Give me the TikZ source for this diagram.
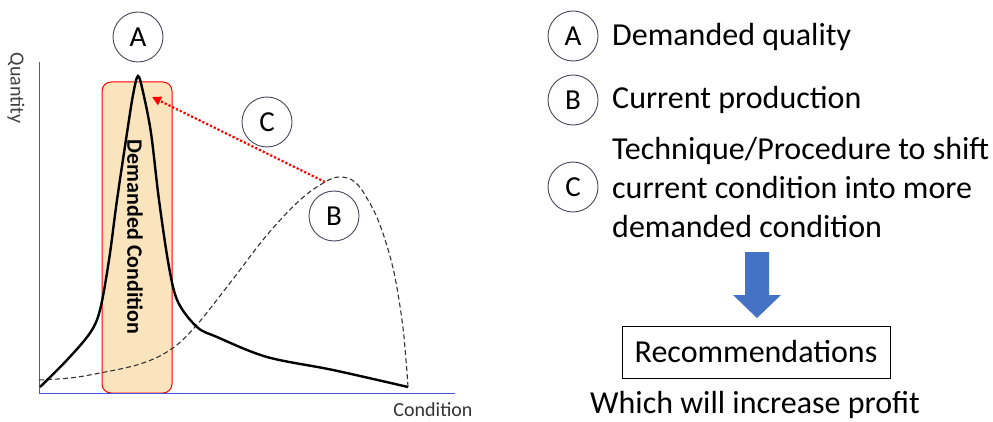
\documentclass[tikz,border=0pt]{standalone}
\usepackage{fontspec}
\setmainfont{Carlito}
\usepackage{xcolor}
\usetikzlibrary{arrows.meta,positioning,calc}

\definecolor{axisblue}{RGB}{68,84,220}
\definecolor{arrowblue}{RGB}{68,114,196}
\definecolor{bandfill}{RGB}{250,228,190}
\definecolor{ringgray}{RGB}{70,70,90}

\tikzset{
  letter/.style={circle,draw=ringgray,line width=0.9pt,minimum size=50pt,inner sep=0pt,font=\fontsize{29}{33}\selectfont},
  legend/.style={anchor=west,inner sep=0pt,font=\fontsize{32}{39}\selectfont,align=left}
}

\begin{document}
\begin{tikzpicture}[x=1pt,y=-1pt]
\useasboundingbox (0,0) rectangle (993,422);

% Demanded band
\node[rectangle,draw=red,line width=1pt,fill=bandfill,rounded corners=9pt,minimum width=70pt,minimum height=311pt] (band) at (137,237.5) {};
\node[rotate=-90,font=\fontsize{22}{26}\selectfont\bfseries] (bandtxt) at (135,237) {Demanded Condition};

% Axes
\draw[axisblue,line width=0.8pt] (39,62) -- (39,393) -- (455,393);
\node[rotate=-90,font=\fontsize{20}{24}\selectfont,text=black!75] (ylab) at (16,88) {Quantity};
\node[font=\fontsize{20}{24}\selectfont,text=black!80] (xlab) at (433,410) {Condition};

% Current production (dashed)
\draw[black!80,dash pattern=on 5pt off 3pt,line width=1.1pt] plot[smooth,tension=0.6] coordinates {
  (39,380) (70,378) (100,373) (140,364) (170,350) (195,327) (230,283) (267,235)
  (300,200) (325,182) (340,177) (355,182) (368,200) (380,225) (393,268) (402,320) (406,360) (408,387)};

% Demanded quality (solid)
\draw[black,line width=2.4pt] plot[smooth,tension=0.55] coordinates {
  (40,387) (67,360) (90,333) (100,310) (109,260) (117,200) (127,133) (133,95) (138,76)
  (143,92) (151,133) (159,200) (169,267) (178,302) (197,327) (217,337) (267,357) (333,370) (408,387)};

% Shift arrow
\coordinate (bpeak) at (325,182);
\coordinate (apeak) at (152,97);
\draw[-{Triangle[length=9pt,width=9pt]},red,line width=2.2pt,dotted] (bpeak) -- (apeak);

% Letters on the chart
\node[letter] (A) at (138,37) {A};
\node[letter] (C) at (267,122) {C};
\node[letter] (B) at (334,216) {B};

% Legend
\node[letter] (lA) at (573,36) {A};
\node[letter] (lB) at (573,100) {B};
\node[letter] (lC) at (573,187) {C};
\node[legend] (tA) at (612,37) {Demanded quality};
\node[legend] (tB) at (612,100) {Current production};
\node[legend] (tC) at (612,188) {Technique/Procedure to shift\\current condition into more\\demanded condition};

% Down arrow and result
\fill[arrowblue] (745,252) -- (769,252) -- (769,295) -- (781,295) -- (757,318) -- (733,295) -- (745,295) -- cycle;
\node[rectangle,draw,line width=0.9pt,minimum width=268pt,minimum height=52pt,font=\fontsize{32}{35}\selectfont] (rec) at (756,352) {Recommendations};
\node[font=\fontsize{32}{35}\selectfont] (profit) at (755,405) {Which will increase profit};
\end{tikzpicture}
\end{document}
